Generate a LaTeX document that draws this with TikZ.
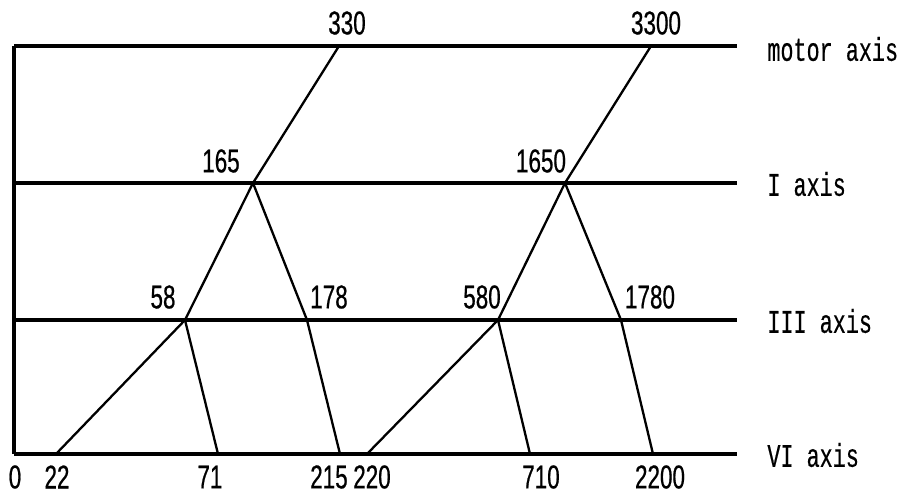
\documentclass[tikz,border=0pt]{standalone}
\usepackage{fontspec}
\setmainfont[FakeStretch=0.68,FakeBold=0.6]{Liberation Sans}
\newfontfamily\axfont[FakeStretch=0.66,FakeBold=0.4]{Liberation Mono}
\begin{document}
\begin{tikzpicture}[x=0.5pt,y=-0.5pt,
  axisline/.style={line width=1.6pt},
  gearline/.style={line width=1.15pt},
  num/.style={font=\fontsize{16.5}{17}\selectfont, inner sep=0pt},
  axlabel/.style={font=\axfont\fontsize{16.5}{17}\selectfont, inner sep=0pt, anchor=west}]
\useasboundingbox (0,0) rectangle (900,498);
% axis end points
\coordinate (mL) at (14,46);  \coordinate (mR) at (737,46);
\coordinate (iL) at (14,183); \coordinate (iR) at (737,183);
\coordinate (tL) at (14,320); \coordinate (tR) at (737,320);
\coordinate (vL) at (14,454); \coordinate (vR) at (737,454);
% speed points
\coordinate (p330) at (339,46);   \coordinate (p3300) at (651,46);
\coordinate (p165) at (253,183);  \coordinate (p1650) at (565,183);
\coordinate (p58) at (185,320);   \coordinate (p178) at (307,320);
\coordinate (p580) at (498,320);  \coordinate (p1780) at (621,320);
\coordinate (p22) at (56,454);    \coordinate (p71) at (218,454);
\coordinate (p215) at (340,454);  \coordinate (p220) at (367,454);
\coordinate (p710) at (530,454);  \coordinate (p2200) at (653,454);
% axes
\draw[axisline] (mL) -- (mR);
\draw[axisline] (iL) -- (iR);
\draw[axisline] (tL) -- (tR);
\draw[axisline] (vL) -- (vR);
\draw[axisline] (mL) -- (vL);
% gear lines
\draw[gearline] (p330) -- (p165);
\draw[gearline] (p165) -- (p58);
\draw[gearline] (p165) -- (p178);
\draw[gearline] (p58) -- (p22);
\draw[gearline] (p58) -- (p71);
\draw[gearline] (p178) -- (p215);
\draw[gearline] (p3300) -- (p1650);
\draw[gearline] (p1650) -- (p580);
\draw[gearline] (p1650) -- (p1780);
\draw[gearline] (p580) -- (p220);
\draw[gearline] (p580) -- (p710);
\draw[gearline] (p1780) -- (p2200);
% labels
\node[num] (l330) at (347,23) {330};
\node[num] (l3300) at (656,23) {3300};
\node[num] (l165) at (221,161) {165};
\node[num] (l1650) at (541,161) {1650};
\node[num] (l58) at (163,297) {58};
\node[num] (l178) at (329,297) {178};
\node[num] (l580) at (482,297) {580};
\node[num] (l1780) at (650,297) {1780};
\node[num] (l0) at (15,477) {0};
\node[num] (l22) at (57,477) {22};
\node[num] (l71) at (210,477) {71};
\node[num] (l215) at (329,477) {215};
\node[num] (l220) at (372,477) {220};
\node[num] (l710) at (541,477) {710};
\node[num] (l2200) at (660,477) {2200};
\node[axlabel] (amotor) at (767,49) {motor axis};
\node[axlabel] (aI) at (767,184) {I axis};
\node[axlabel] (aIII) at (767,321) {III axis};
\node[axlabel] (aVI) at (767,455) {VI axis};
\end{tikzpicture}
\end{document}
